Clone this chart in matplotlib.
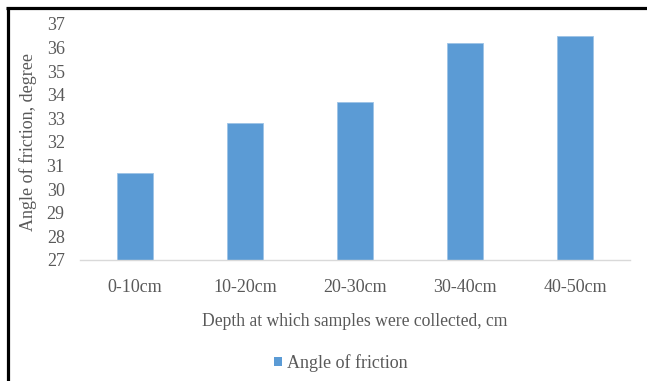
import matplotlib.pyplot as plt
from matplotlib.lines import Line2D
from matplotlib.patches import Patch

depths = ['0-10cm', '10-20cm', '20-30cm', '30-40cm', '40-50cm']
friction = [30.7, 32.8, 33.7, 36.2, 36.5]
y_ticks = list(range(27, 38))

plt.rcParams['font.family'] = ['Liberation Serif', 'DejaVu Serif']
txt = '#595959'

fig = plt.figure(figsize=(6.47, 3.81), dpi=100)
ax = fig.add_axes([80 / 647, 1 - 260 / 381, 550 / 647, 236 / 381])

ax.bar(range(len(depths)), friction, width=0.32, bottom=0, color='#5B9BD5',
       edgecolor='#9DC3E6', linewidth=0.6)
ax.set_xlim(-0.5, len(depths) - 0.5)
ax.set_ylim(27, 37)
ax.set_yticks(y_ticks)
ax.set_xticks(range(len(depths)))
ax.set_xticklabels(depths)
ax.tick_params(axis='both', length=0, labelsize=13, colors=txt)
ax.tick_params(axis='x', pad=14)
ax.tick_params(axis='y', pad=11)

for s in ['left', 'right', 'top']:
    ax.spines[s].set_visible(False)
ax.spines['bottom'].set_color('#d9d9d9')
ax.spines['bottom'].set_linewidth(1.0)

ax.set_ylabel('Angle of friction, degree', fontsize=13, color=txt)
ax.yaxis.set_label_coords(-43 / 550, 0.5)
ax.set_xlabel('Depth at which samples were collected, cm', fontsize=12.7, color=txt)
ax.xaxis.set_label_coords(0.5, -53 / 236)

handle = [Patch(facecolor='#5B9BD5', edgecolor='none')]
fig.legend(handle, ['Angle of friction'], loc='center', bbox_to_anchor=(341 / 647, 1 - 363 / 381),
           frameon=False, fontsize=13, labelcolor=txt, handlelength=0.45, handleheight=0.45,
           handletextpad=0.3)

# black frame around the picture (left and top visible)
fig.add_artist(Line2D([7.5 / 647, 7.5 / 647], [0, 1 - 7.5 / 381], color='black', lw=2.3,
                      transform=fig.transFigure, solid_capstyle='butt'))
fig.add_artist(Line2D([6.3 / 647, 1], [1 - 7.5 / 381, 1 - 7.5 / 381], color='black', lw=2.3,
                      transform=fig.transFigure, solid_capstyle='butt'))

fig.savefig('out.png', dpi=100)
